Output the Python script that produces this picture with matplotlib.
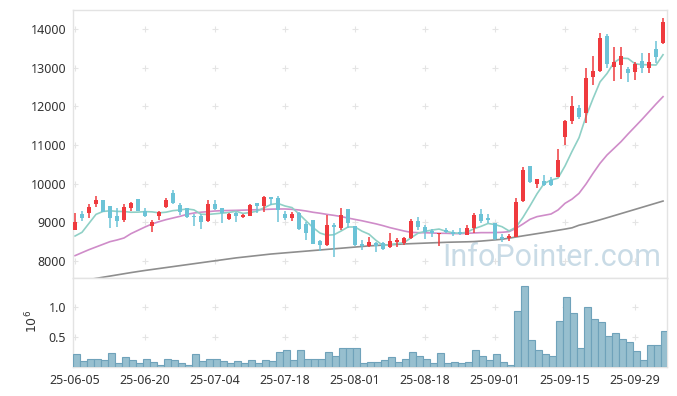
import numpy as np
import pandas as pd
import matplotlib
matplotlib.use("Agg")
import matplotlib.pyplot as plt

plt.rcParams['font.family'] = ['Noto Sans', 'DejaVu Sans']

# ---------------- data ----------------
opens = [8800, 9215, 9250, 9474, 9578, 9422, 9164, 9060, 9379, 9603,
         9293, 8905, 9172, 9405, 9750, 9448, 9362, 9172, 9164, 9043,
         9474, 9362, 9086, 9250, 9147, 9172, 9491, 9431, 9646, 9620,
         9215, 9121, 9233, 8948, 9052, 8517, 8414, 8931, 8845, 9345,
         8914, 8440, 8397, 8474, 8457, 8371, 8500, 8457, 8586, 9034,
         8888, 8784, 8698, 8802, 8741, 8741, 8680, 8862, 9216, 9112,
         8974, 8612, 8586, 8629, 9560, 10457, 9991, 10069, 10095, 10181,
         11198, 11610, 11965, 11835, 12767, 12922, 13819, 13008, 13069, 12957,
         12896, 13181, 12999, 13474, 13646]
highs = [9233, 9293, 9465, 9690, 9590, 9430, 9362, 9465, 9517, 9603,
         9362, 9060, 9293, 9620, 9836, 9491, 9362, 9207, 9207, 9578,
         9578, 9362, 9250, 9260, 9215, 9465, 9491, 9690, 9664, 9690,
         9293, 9259, 9259, 9017, 9052, 8543, 9190, 8991, 9362, 9345,
         8914, 8543, 8629, 8500, 8500, 8716, 8603, 8629, 9086, 9147,
         8931, 8828, 8733, 8845, 8802, 8845, 8931, 9250, 9336, 9207,
         8991, 8698, 8698, 9621, 10422, 10457, 10121, 10224, 10181, 10888,
         11646, 12267, 12034, 12983, 13301, 13888, 13870, 13526, 13526, 13026,
         13155, 13370, 13370, 13698, 14276]
lows = [8790, 9043, 9103, 9405, 9270, 8845, 8888, 9017, 9293, 9280,
        9147, 8759, 9060, 9362, 9465, 9190, 9103, 8914, 8828, 9017,
        9319, 8991, 9060, 9000, 9103, 9164, 9233, 9276, 9448, 9017,
        9060, 9035, 8802, 8543, 8431, 8259, 8388, 8112, 8802, 8845,
        8397, 8284, 8371, 8224, 8284, 8327, 8371, 8414, 8569, 8802,
        8569, 8629, 8396, 8715, 8655, 8672, 8660, 8716, 8974, 8974,
        8543, 8500, 8526, 8612, 9534, 10026, 9897, 9940, 9940, 10164,
        11000, 11530, 11664, 11560, 12552, 12896, 12983, 12664, 12698, 12621,
        12681, 12870, 12853, 13112, 13620]
closes = [9017, 9121, 9405, 9586, 9276, 9103, 9043, 9388, 9491, 9293,
          9172, 9009, 9259, 9578, 9491, 9259, 9147, 9130, 9017, 9465,
          9345, 9233, 9215, 9172, 9190, 9448, 9422, 9646, 9603, 9319,
          9121, 9215, 8819, 8715, 8448, 8414, 8931, 8888, 9190, 8974,
          8414, 8388, 8500, 8388, 8310, 8517, 8543, 8603, 9034, 8888,
          8759, 8715, 8733, 8741, 8690, 8707, 8850, 9190, 9043, 9060,
          8569, 8569, 8647, 9517, 10353, 10052, 10121, 9966, 9966, 10612,
          11621, 12008, 11733, 12725, 12914, 13776, 13095, 13155, 13301, 12853,
          13095, 12983, 13138, 13267, 14189]
# closes of the 4 sessions before the chart window (for the 5-day average)
pre_closes = [8640, 8240, 8430, 8900]

ma20 = [8138, 8216, 8293, 8362, 8431, 8500, 8543, 8595, 8707, 8793,
        8879, 8957, 9017, 9069, 9112, 9155, 9207, 9241, 9262, 9276,
        9293, 9302, 9306, 9310, 9315, 9320, 9326, 9332, 9340, 9345,
        9345, 9336, 9319, 9293, 9260, 9235, 9205, 9180, 9150, 9110,
        9075, 9040, 9000, 8960, 8914, 8862, 8819, 8776, 8741, 8733,
        8730, 8724, 8716, 8716, 8710, 8707, 8716, 8725, 8733, 8733,
        8735, 8742, 8759, 8845, 8957, 9078, 9147, 9181, 9215, 9319,
        9491, 9600, 9750, 9991, 10267, 10526, 10741, 10913, 11086, 11284,
        11473, 11663, 11861, 12060, 12249]
ma60 = [7460, 7490, 7520, 7550, 7580, 7610, 7640, 7670, 7700, 7728,
        7755, 7780, 7805, 7830, 7855, 7880, 7905, 7930, 7955, 7980,
        8005, 8030, 8055, 8080, 8100, 8120, 8140, 8160, 8180, 8195,
        8210, 8225, 8240, 8255, 8270, 8285, 8300, 8315, 8330, 8345,
        8360, 8375, 8390, 8400, 8410, 8420, 8430, 8440, 8448, 8455,
        8462, 8469, 8476, 8483, 8488, 8492, 8496, 8502, 8515, 8530,
        8545, 8562, 8590, 8620, 8650, 8678, 8707, 8735, 8765, 8795,
        8825, 8858, 8925, 8968, 9015, 9065, 9118, 9172, 9226, 9280,
        9334, 9388, 9442, 9496, 9550]

volumes = [210000, 100000, 130000, 130000, 110000, 230000, 60000, 160000, 120000, 60000,
           130000, 80000, 30000, 130000, 110000, 60000, 30000, 210000, 100000, 140000,
           130000, 100000, 60000, 100000, 60000, 110000, 60000, 110000, 100000, 240000,
           280000, 110000, 280000, 130000, 140000, 130000, 240000, 180000, 310000, 310000,
           310000, 60000, 90000, 90000, 110000, 160000, 80000, 140000, 240000, 190000,
           130000, 60000, 230000, 60000, 90000, 60000, 90000, 280000, 180000, 110000,
           210000, 90000, 40000, 920000, 1340000, 440000, 280000, 210000, 190000, 755000,
           1150000, 890000, 310000, 1000000, 790000, 740000, 520000, 560000, 470000, 410000,
           260000, 110000, 370000, 370000, 590000]

tick_labels = ['25-06-05', '25-06-20', '25-07-04', '25-07-18', '25-08-01',
               '25-08-18', '25-09-01', '25-09-15', '25-09-29']
tick_index = [0, 10, 20, 30, 40, 50, 60, 70, 80]
price_ticks = [8000, 9000, 10000, 11000, 12000, 13000, 14000]
vol_ticks = [0.5, 1.0]

# ---------------- derived ----------------
o = np.array(opens, float); h = np.array(highs, float)
l = np.array(lows, float); c = np.array(closes, float)
n = len(c)
x = np.arange(n)
ma5 = pd.Series(pre_closes + closes).rolling(5).mean().to_numpy()[len(pre_closes):]

UP = '#ef3a3e'
DOWN = '#6cc3d7'
cols = np.where(c >= o, UP, DOWN)

W, H = 677, 396
fig = plt.figure(figsize=(W / 100, H / 100), dpi=100)
L, R = 73 / W, 667.3 / W
ax = fig.add_axes([L, (H - 278) / H, R - L, 268 / H])
axv = fig.add_axes([L, (H - 367) / H, R - L, 89 / H], sharex=ax)

xlim = (-0.286, 84.61)

# watermark
ax.text(442 / W, (H - 266) / H, 'InfoPointer.com', transform=fig.transFigure,
        fontsize=22, family=['Roboto', 'DejaVu Sans'], color='#c4d8e4', alpha=0.9,
        zorder=0.5, va='baseline', ha='left')

# moving averages
ax.plot(x, ma60, color='#8e8e8e', lw=1.2, zorder=2)
ax.plot(x, ma20, color='#cf8cc9', lw=1.2, zorder=2)
ax.plot(x, ma5, color='#8fd0c6', lw=1.2, zorder=2)

# candles
ax.vlines(x, l, h, colors=cols, lw=1.1, zorder=3)
body_lo = np.minimum(o, c)
body_h = np.maximum(np.abs(c - o), 25)
ax.bar(x, body_h, bottom=body_lo, width=0.64, color=cols, edgecolor=cols, lw=0, zorder=4)

ax.set_xlim(*xlim)
ax.set_ylim(7560, 14491)
ax.set_yticks(price_ticks)
ax.set_yticklabels([str(t) for t in price_ticks])

# grid plus markers
gx, gy = np.meshgrid(tick_index, price_ticks)
ax.plot(gx.ravel(), gy.ravel(), ls='none', marker='+', ms=4.5, mew=0.8, color='#e4e4e4', zorder=0.2)

# volume
vol = np.array(volumes, float) / 1e6
axv.bar(x - 0.286, vol, width=1.0, align='edge', color='#97bfcf', edgecolor='#6fa2ba', lw=0.8, zorder=3)
axv.set_ylim(0, 89 / 60.5)
axv.set_yticks(vol_ticks)
axv.set_yticklabels(['%.1f' % t for t in vol_ticks])
gx, gy = np.meshgrid(tick_index, vol_ticks)
axv.plot(gx.ravel(), gy.ravel(), ls='none', marker='+', ms=4.5, mew=0.8, color='#e4e4e4', zorder=0.2)
axv.set_xticks(tick_index)
axv.set_xticklabels(tick_labels)

for a in (ax, axv):
    for s in a.spines.values():
        s.set_color('#e3e3e3')
        s.set_linewidth(1.0)
    a.tick_params(length=0, labelsize=9, colors='#333333', pad=5)
ax.tick_params(axis='x', labelbottom=False)

fig.text(32 / W, 1 - 321 / H, r'$10^6$', rotation=90, ha='center', va='center',
         fontsize=9, color='#333333')

fig.savefig('out.png', dpi=100)
